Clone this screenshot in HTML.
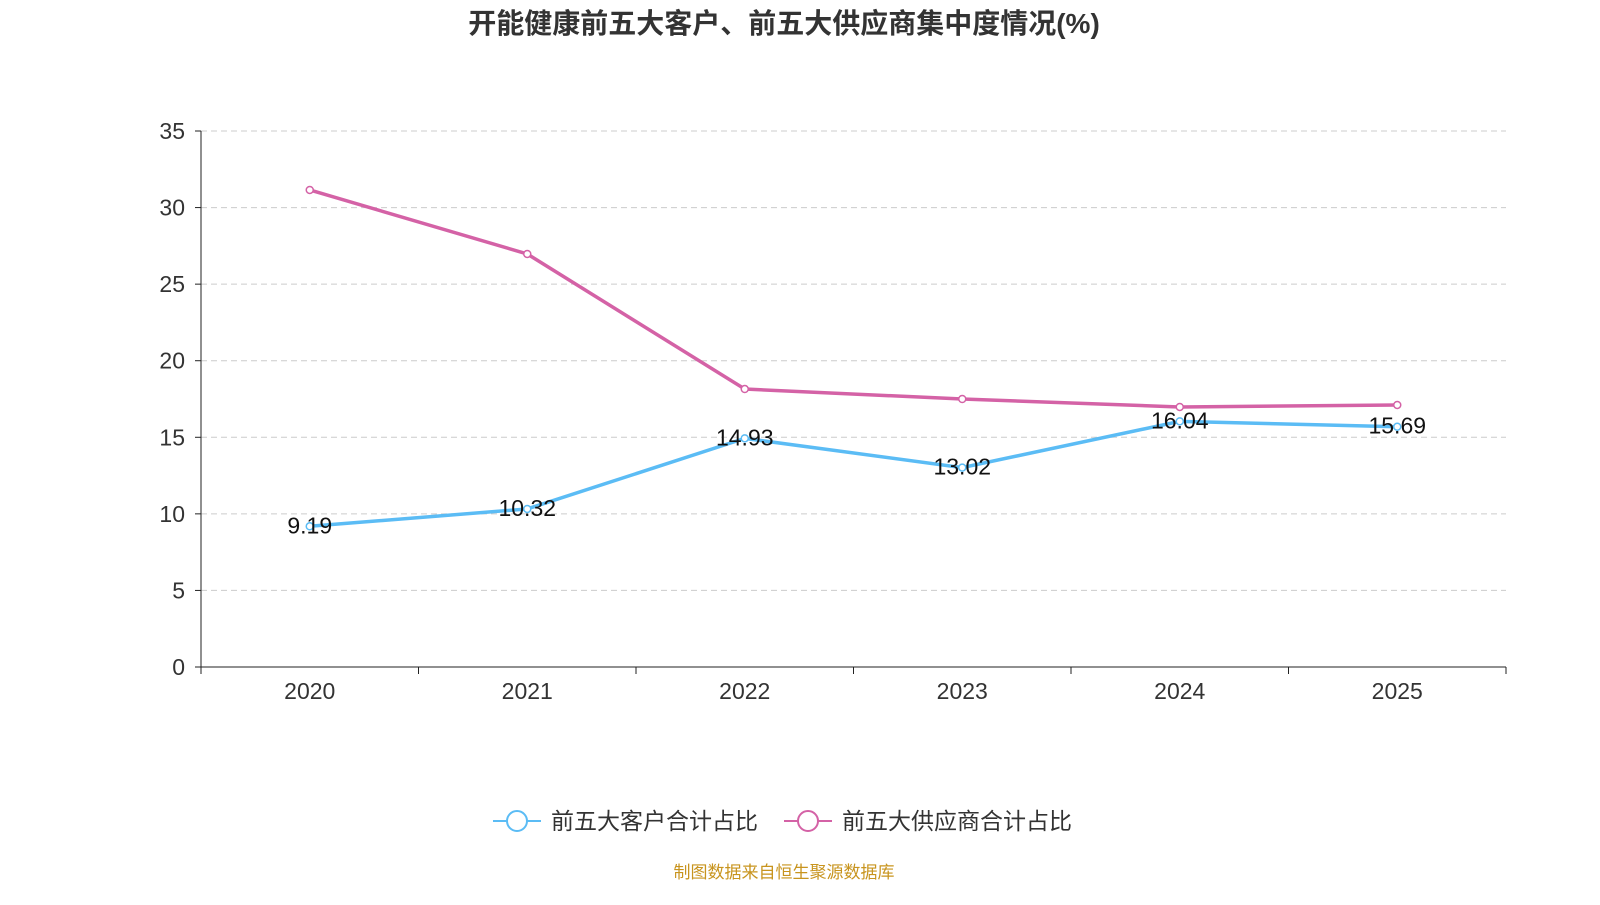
<!DOCTYPE html>
<html><head><meta charset="utf-8"><style>
body{margin:0;background:#fff;font-family:"Liberation Sans","Noto Sans CJK SC",sans-serif;}
</style></head><body>
<svg id="chart" width="1600" height="900" xmlns="http://www.w3.org/2000/svg" style="font-family:'Liberation Sans','Noto Sans CJK SC',sans-serif">
<text x="784" y="33" text-anchor="middle" font-size="28" font-weight="bold" fill="#333">开能健康前五大客户、前五大供应商集中度情况(%)</text>
<g id="grid"></g><g id="axes"></g><g id="series"></g>
<g>
<line x1="493" y1="821" x2="541" y2="821" stroke="#5bbcf5" stroke-width="2"/>
<circle cx="517" cy="821" r="10" fill="#fff" stroke="#5bbcf5" stroke-width="2"/>
<text x="551" y="829" font-size="23" fill="#333">前五大客户合计占比</text>
<line x1="784" y1="821" x2="832" y2="821" stroke="#d462a6" stroke-width="2"/>
<circle cx="808" cy="821" r="10" fill="#fff" stroke="#d462a6" stroke-width="2"/>
<text x="842" y="829" font-size="23" fill="#333">前五大供应商合计占比</text>
</g>
<text x="784" y="878" text-anchor="middle" font-size="17" fill="#c8941e">制图数据来自恒生聚源数据库</text>
</svg>
<script>
const categories=["2020","2021","2022","2023","2024","2025"];
const customers=[9.19,10.32,14.93,13.02,16.04,15.69];
const suppliers=[31.15,26.97,18.15,17.5,16.98,17.11];
const yTicks=[0,5,10,15,20,25,30,35];
const NS="http://www.w3.org/2000/svg";
const L=201,R=1506,T=131,B=667,yMax=35;
const bw=(R-L)/categories.length;
const x=i=>L+bw*(i+0.5);
const y=v=>B-(v/yMax)*(B-T);
function mk(tag,attrs,parent,txt){const e=document.createElementNS(NS,tag);for(const k in attrs)e.setAttribute(k,attrs[k]);if(txt!==undefined)e.textContent=txt;parent.appendChild(e);return e;}
const grid=document.getElementById('grid'),axes=document.getElementById('axes'),ser=document.getElementById('series');
yTicks.forEach(t=>{
 if(t>0){const g=mk('line',{x1:L,x2:R,y1:y(t),y2:y(t),stroke:'#ccc','stroke-dasharray':'6,4'},grid);
 
 }
 mk('line',{x1:L-6,x2:L,y1:y(t),y2:y(t),stroke:'#222'},axes);
 const lb=mk('text',{x:185,y:y(t)+8,'text-anchor':'end','font-size':23,fill:'#333'},axes,t);
 
 
});
const ya=mk('line',{x1:L,x2:L,y1:T,y2:B,stroke:'#222'},axes);


const xa=mk('line',{x1:L,x2:R,y1:B,y2:B,stroke:'#222'},axes);


for(let i=0;i<=categories.length;i++)mk('line',{x1:L+bw*i,x2:L+bw*i,y1:B,y2:B+7,stroke:'#222'},axes);
categories.forEach((c,i)=>{const t=mk('text',{x:x(i),y:699,'text-anchor':'middle','font-size':23,fill:'#333'},axes,c);
 
 });
function line(vals,color,name,labels){
 const p=mk('polyline',{points:vals.map((v,i)=>x(i)+','+y(v)).join(' '),fill:'none',stroke:color,'stroke-width':3.5},ser);
 
 
 vals.forEach((v,i)=>{const c=mk('circle',{cx:x(i),cy:y(v),r:3.5,fill:'#fff',stroke:color,'stroke-width':1.5},ser);
  
  
  if(labels){const t=mk('text',{x:x(i),y:y(v)+7,'text-anchor':'middle','font-size':23,fill:'#111'},ser,v.toFixed(2));
   
   }
 });
}
line(suppliers,'#d462a6','suppliers',false);
line(customers,'#5bbcf5','customers',true);
</script>
</body></html>
